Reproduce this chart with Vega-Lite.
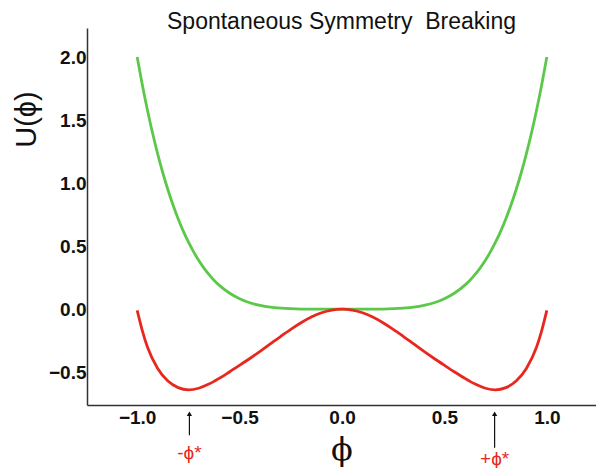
{
  "$schema": "https://vega.github.io/schema/vega-lite/v6.json",
  "width": 509,
  "height": 377,
  "autosize": {"type": "none"},
  "padding": {"left": 87, "top": 28, "right": 0, "bottom": 63},
  "background": "white",
  "config": {
    "view": {"stroke": null},
    "font": "Liberation Sans",
    "axis": {"grid": false, "domainColor": "#333333", "domainWidth": 1.5, "tickSize": 0,
             "labelFont": "Liberation Sans", "labelFontWeight": "bold", "labelFontSize": 19, "labelColor": "#111111",
             "titleFont": "Liberation Sans", "titleFontWeight": "normal", "titleColor": "#111111"}
  },
  "title": {"text": "Spontaneous Symmetry \u00a0Breaking", "font": "Liberation Sans", "fontSize": 23, "fontWeight": "normal", "color": "#111111", "offset": -6},
  "datasets": {
    "curves": [
      {"phi": -1.0, "U": 2.0, "series": "green"},
      {"phi": -0.975, "U": 1.78, "series": "green"},
      {"phi": -0.95, "U": 1.58, "series": "green"},
      {"phi": -0.925, "U": 1.397, "series": "green"},
      {"phi": -0.9, "U": 1.232, "series": "green"},
      {"phi": -0.875, "U": 1.082, "series": "green"},
      {"phi": -0.85, "U": 0.947, "series": "green"},
      {"phi": -0.825, "U": 0.826, "series": "green"},
      {"phi": -0.8, "U": 0.717, "series": "green"},
      {"phi": -0.775, "U": 0.619, "series": "green"},
      {"phi": -0.75, "U": 0.533, "series": "green"},
      {"phi": -0.725, "U": 0.456, "series": "green"},
      {"phi": -0.7, "U": 0.388, "series": "green"},
      {"phi": -0.675, "U": 0.328, "series": "green"},
      {"phi": -0.65, "U": 0.276, "series": "green"},
      {"phi": -0.625, "U": 0.23, "series": "green"},
      {"phi": -0.6, "U": 0.191, "series": "green"},
      {"phi": -0.55, "U": 0.128, "series": "green"},
      {"phi": -0.5, "U": 0.083, "series": "green"},
      {"phi": -0.45, "U": 0.051, "series": "green"},
      {"phi": -0.4, "U": 0.03, "series": "green"},
      {"phi": -0.35, "U": 0.016, "series": "green"},
      {"phi": -0.3, "U": 0.008, "series": "green"},
      {"phi": -0.2, "U": 0.001, "series": "green"},
      {"phi": -0.1, "U": 0.0, "series": "green"},
      {"phi": 0.0, "U": 0.0, "series": "green"},
      {"phi": 0.1, "U": 0.0, "series": "green"},
      {"phi": 0.2, "U": 0.001, "series": "green"},
      {"phi": 0.3, "U": 0.008, "series": "green"},
      {"phi": 0.35, "U": 0.016, "series": "green"},
      {"phi": 0.4, "U": 0.03, "series": "green"},
      {"phi": 0.45, "U": 0.051, "series": "green"},
      {"phi": 0.5, "U": 0.083, "series": "green"},
      {"phi": 0.55, "U": 0.128, "series": "green"},
      {"phi": 0.6, "U": 0.191, "series": "green"},
      {"phi": 0.625, "U": 0.23, "series": "green"},
      {"phi": 0.65, "U": 0.276, "series": "green"},
      {"phi": 0.675, "U": 0.328, "series": "green"},
      {"phi": 0.7, "U": 0.388, "series": "green"},
      {"phi": 0.725, "U": 0.456, "series": "green"},
      {"phi": 0.75, "U": 0.533, "series": "green"},
      {"phi": 0.775, "U": 0.619, "series": "green"},
      {"phi": 0.8, "U": 0.717, "series": "green"},
      {"phi": 0.825, "U": 0.826, "series": "green"},
      {"phi": 0.85, "U": 0.947, "series": "green"},
      {"phi": 0.875, "U": 1.082, "series": "green"},
      {"phi": 0.9, "U": 1.232, "series": "green"},
      {"phi": 0.925, "U": 1.397, "series": "green"},
      {"phi": 0.95, "U": 1.58, "series": "green"},
      {"phi": 0.975, "U": 1.78, "series": "green"},
      {"phi": 1.0, "U": 2.0, "series": "green"},
      {"phi": -1.0, "U": -0.01, "series": "red"},
      {"phi": -0.975, "U": -0.17, "series": "red"},
      {"phi": -0.95, "U": -0.3, "series": "red"},
      {"phi": -0.9, "U": -0.47, "series": "red"},
      {"phi": -0.85, "U": -0.57, "series": "red"},
      {"phi": -0.8, "U": -0.622, "series": "red"},
      {"phi": -0.75, "U": -0.64, "series": "red"},
      {"phi": -0.7, "U": -0.627, "series": "red"},
      {"phi": -0.65, "U": -0.594, "series": "red"},
      {"phi": -0.6, "U": -0.549, "series": "red"},
      {"phi": -0.55, "U": -0.498, "series": "red"},
      {"phi": -0.5, "U": -0.445, "series": "red"},
      {"phi": -0.45, "U": -0.391, "series": "red"},
      {"phi": -0.4, "U": -0.335, "series": "red"},
      {"phi": -0.35, "U": -0.276, "series": "red"},
      {"phi": -0.3, "U": -0.217, "series": "red"},
      {"phi": -0.25, "U": -0.16, "series": "red"},
      {"phi": -0.2, "U": -0.108, "series": "red"},
      {"phi": -0.15, "U": -0.063, "series": "red"},
      {"phi": -0.1, "U": -0.028, "series": "red"},
      {"phi": -0.05, "U": -0.007, "series": "red"},
      {"phi": 0.0, "U": 0.0, "series": "red"},
      {"phi": 0.05, "U": -0.007, "series": "red"},
      {"phi": 0.1, "U": -0.028, "series": "red"},
      {"phi": 0.15, "U": -0.063, "series": "red"},
      {"phi": 0.2, "U": -0.108, "series": "red"},
      {"phi": 0.25, "U": -0.16, "series": "red"},
      {"phi": 0.3, "U": -0.217, "series": "red"},
      {"phi": 0.35, "U": -0.276, "series": "red"},
      {"phi": 0.4, "U": -0.335, "series": "red"},
      {"phi": 0.45, "U": -0.391, "series": "red"},
      {"phi": 0.5, "U": -0.445, "series": "red"},
      {"phi": 0.55, "U": -0.498, "series": "red"},
      {"phi": 0.6, "U": -0.549, "series": "red"},
      {"phi": 0.65, "U": -0.594, "series": "red"},
      {"phi": 0.7, "U": -0.627, "series": "red"},
      {"phi": 0.75, "U": -0.64, "series": "red"},
      {"phi": 0.8, "U": -0.622, "series": "red"},
      {"phi": 0.85, "U": -0.57, "series": "red"},
      {"phi": 0.9, "U": -0.47, "series": "red"},
      {"phi": 0.95, "U": -0.3, "series": "red"},
      {"phi": 0.975, "U": -0.17, "series": "red"},
      {"phi": 1.0, "U": -0.01, "series": "red"}
    ],
    "arrows": [
      {"phi": -0.745, "y1": -1.0, "y2": -0.83, "label": "-ϕ*", "ly": -1.14},
      {"phi": 0.745, "y1": -1.1, "y2": -0.83, "label": "+ϕ*", "ly": -1.19}
    ]
  },
  "layer": [
    {
      "data": {"name": "curves"},
      "mark": {"type": "line", "interpolate": "monotone", "strokeWidth": 2.8},
      "encoding": {
        "x": {"field": "phi", "type": "quantitative", "title": "ϕ",
              "scale": {"domain": [-1.245, 1.24], "nice": false, "zero": false},
              "axis": {"values": [-1, -0.5, 0, 0.5, 1], "format": ".1f", "labelPadding": 3, "titleFontSize": 32, "titlePadding": 7, "titleFont": "DejaVu Serif"}},
        "y": {"field": "U", "type": "quantitative", "title": "U(ϕ)",
              "scale": {"domain": [-0.76, 2.23], "nice": false, "zero": false},
              "axis": {"values": [-0.5, 0, 0.5, 1, 1.5, 2], "format": ".1f", "labelPadding": 1, "titleFontSize": 29, "titleAngle": -90, "titleX": -61, "titleY": 91, "titleAlign": "center", "titleBaseline": "middle"}},
        "color": {"field": "series", "type": "nominal", "scale": {"domain": ["green", "red"], "range": ["#5cc84a", "#e8281e"]}, "legend": null},
        "detail": {"field": "series"}
      }
    },
    {
      "data": {"name": "arrows"},
      "mark": {"type": "rule", "color": "#111111", "strokeWidth": 1.2},
      "encoding": {
        "x": {"field": "phi", "type": "quantitative", "title": "ϕ"},
        "y": {"field": "y1", "type": "quantitative", "title": "U(ϕ)"},
        "y2": {"field": "y2"}
      }
    },
    {
      "data": {"name": "arrows"},
      "mark": {"type": "point", "shape": "triangle-up", "filled": true, "color": "#111111", "size": 28, "opacity": 1},
      "encoding": {
        "x": {"field": "phi", "type": "quantitative", "title": "ϕ"},
        "y": {"field": "y2", "type": "quantitative", "title": "U(ϕ)"}
      }
    },
    {
      "data": {"name": "arrows"},
      "mark": {"type": "text", "color": "#e8281e", "fontSize": 19, "font": "Liberation Sans", "align": "center", "baseline": "middle"},
      "encoding": {
        "x": {"field": "phi", "type": "quantitative", "title": "ϕ"},
        "y": {"field": "ly", "type": "quantitative", "title": "U(ϕ)"},
        "text": {"field": "label"}
      }
    }
  ]
}
